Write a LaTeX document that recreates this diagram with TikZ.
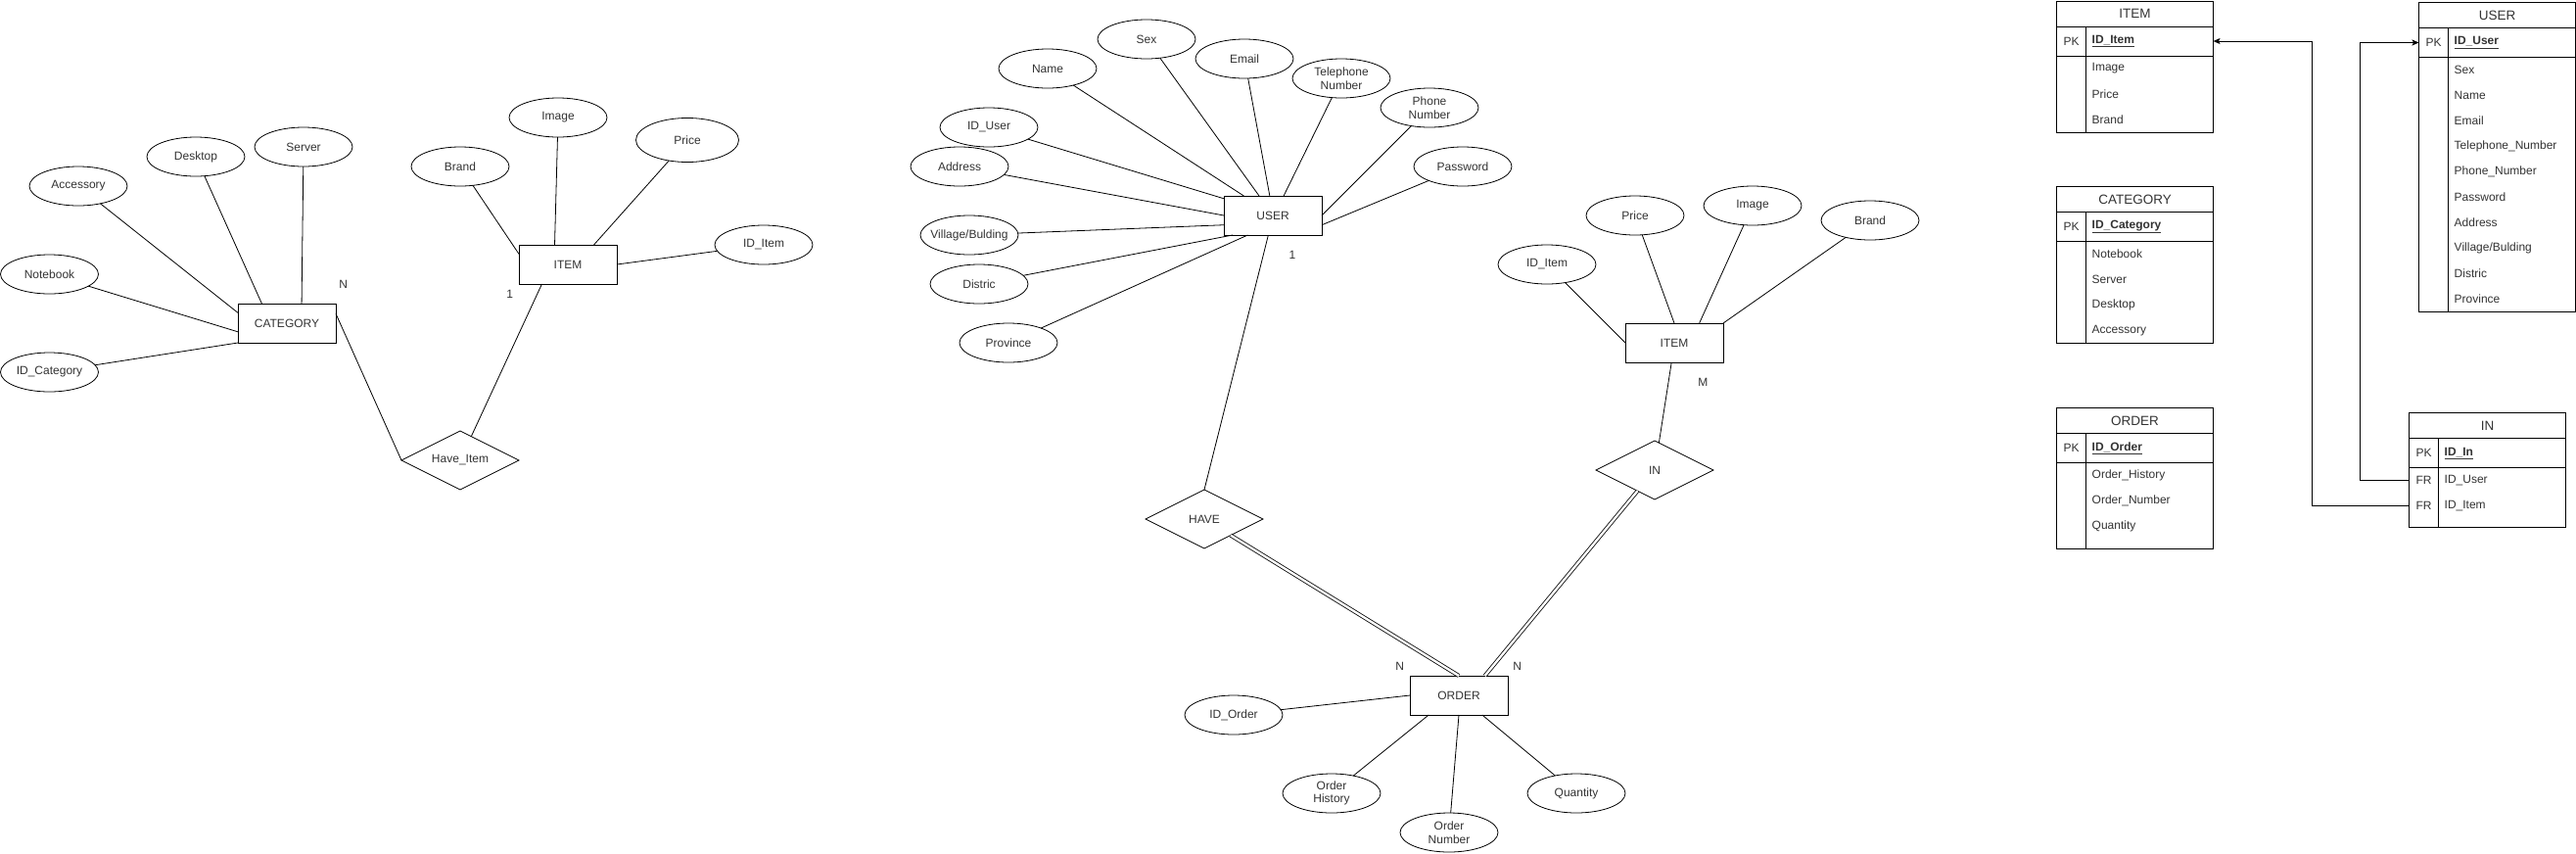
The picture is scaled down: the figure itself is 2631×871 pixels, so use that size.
\documentclass[tikz,border=0pt]{standalone}
\usepackage{fontspec}
\setmainfont{Liberation Sans}
\usetikzlibrary{shapes.geometric,calc,arrows.meta}
\definecolor{txt}{HTML}{333333}
\newcommand\erframe[5]{%
  \draw[tbl] (#1,#2) rectangle (#1+160,#5);
  \draw[tbl] (#1,#3) -- (#1+160,#3) (#1,#4) -- (#1+160,#4) (#1+30,#3) -- (#1+30,#5);}
\begin{document}
\begin{tikzpicture}[x=1pt,y=-1pt,
  every node/.style={font=\fontsize{12}{13.5}\selectfont, text=txt},
  ent/.style={draw, line width=1pt, minimum width=100pt, minimum height=40pt, inner sep=0pt, outer sep=0pt},
  attr/.style={draw, ellipse, line width=0.8pt, minimum width=100pt, minimum height=40pt, inner sep=0pt, outer sep=0pt, align=center},
  rel/.style={draw, diamond, aspect=2, line width=0.8pt, minimum width=120pt, minimum height=60pt, inner sep=0pt, outer sep=0pt},
  conn/.style={draw, line width=0.8pt},
  dbl/.style={draw, line width=0.8pt, double, double distance=2.4pt},
  card/.style={inner sep=0pt},
  tbl/.style={draw, line width=1pt},
  hdr/.style={inner sep=0pt, font=\fontsize{13.5}{15}\selectfont},
  keyl/.style={inner sep=0pt},
  rowt/.style={inner sep=0pt, anchor=west},
  fk/.style={draw, line width=1pt, -{Stealth[length=7pt,width=6pt,inset=1.5pt]}}
]
\useasboundingbox (0,0) rectangle (2631,871);

% ---------------- left ER: CATEGORY / ITEM ----------------
\node[ent] (cat) at (293,330) {CATEGORY};
\node[ent] (itemA) at (580,270) {ITEM};
\node[rel] (hi) at (470,470) {Have\_Item};
\node[attr] (acc) at (80,190) {Accessory};
\node[attr] (desk) at (200,160) {Desktop};
\node[attr] (serv) at (310,150) {Server};
\node[attr] (note) at (50.5,280) {Notebook};
\node[attr] (idcat) at (50.5,380) {ID\_Category};
\node[attr] (brandA) at (470,170) {Brand};
\node[attr] (imgA) at (570,120) {Image};
\node[attr, minimum width=105pt, minimum height=45pt] (priceA) at (702,143) {Price};
\node[attr] (iditemA) at (780,250) {ID\_Item};

\draw[conn] (acc) -- (cat.168.7);
\draw[conn] (desk) -- (cat.142.4);
\draw[conn] (serv) -- (cat.53.1);
\draw[conn] (note) -- (cat.190.2);
\draw[conn] (idcat) -- (cat.south west);
\draw[conn] (cat.11.3) -- (hi.west);
\draw[conn] (hi) -- (itemA.217.6);
\draw[conn] (brandA) -- (itemA.168.7);
\draw[conn] (imgA) -- (itemA.124);
\draw[conn] (priceA) -- (itemA.37.6);
\draw[conn] (iditemA) -- (itemA.east);
\node[card] (lN1) at (350.7,290.7) {N};
\node[card] (l11) at (520.7,300.7) {1};

% ---------------- middle ER: USER / ORDER / ITEM ----------------
\node[ent] (user) at (1300,220) {USER};
\node[attr] (sex) at (1171,40) {Sex};
\node[attr] (name) at (1070,70) {Name};
\node[attr] (email) at (1271,60) {Email};
\node[attr] (tel) at (1370,80) {Telephone\\Number};
\node[attr] (phone) at (1460,110) {Phone\\Number};
\node[attr] (pwd) at (1494,170) {Password};
\node[attr] (iduser) at (1010,130) {ID\_User};
\node[attr] (addr) at (980,170) {Address};
\node[attr, inner xsep=-8pt] (vill) at (990,240) {Village/Bulding};
\node[attr] (dist) at (1000,290) {Distric};
\node[attr] (prov) at (1030,350) {Province};

\draw[conn] (name) -- (user.146.3);
\draw[conn] (sex) -- (user.125);
\draw[conn] (email) -- (user.99.9);
\draw[conn] (tel) -- (user.61.2);
\draw[conn] (phone) -- (user.east);
\draw[conn] (pwd) -- (user.-11.3);
\draw[conn] (iduser) -- (user.161.2);
\draw[conn] (addr) -- (user.west);
\draw[conn] (vill) -- (user.191.3);
\draw[conn] (dist) -- (user.206);
\draw[conn] (prov) -- (user.218.1);

\node[rel] (have) at (1230,530) {HAVE};
\node[ent] (order) at (1490,710) {ORDER};
\node[rel] (inrel) at (1690,480) {IN};
\node[ent] (itemB) at (1710,350) {ITEM};

\draw[conn] (user.257.6) -- (have.north);
\draw[dbl] (have) -- (order.north);
\draw[dbl] (inrel) -- (order.37.6);
\draw[conn] (itemB.262.3) -- (inrel);

\node[attr] (iditemB) at (1580,270) {ID\_Item};
\node[attr] (priceB) at (1670,220) {Price};
\node[attr] (imgB) at (1790,210) {Image};
\node[attr] (brandB) at (1910,225) {Brand};
\draw[conn] (iditemB) -- (itemB.west);
\draw[conn] (priceB) -- (itemB.north);
\draw[conn] (imgB) -- (itemB.38.7);
\draw[conn] (brandB) -- (itemB.north east);

\node[attr] (idord) at (1260,730) {ID\_Order};
\node[attr] (ohist) at (1360,810) {Order\\History};
\node[attr] (onum) at (1480,850) {Order\\Number};
\node[attr] (qty) at (1610,810) {Quantity};
\draw[conn] (idord) -- (order.west);
\draw[conn] (ohist) -- (order.213.3);
\draw[conn] (onum) -- (order.south);
\draw[conn] (qty) -- (order.320.2);

\node[card] (l12) at (1320,260.7) {1};
\node[card] (lM) at (1739.3,390.7) {M};
\node[card] (lN2) at (1429.6,680.4) {N};
\node[card] (lN3) at (1549.6,680.4) {N};

% ---------------- tables ----------------
% ITEM
\erframe{2100.5}{1}{27}{57}{135}
\node[hdr] (tIh) at (2180.5,14) {ITEM};
\node[keyl] (tIk) at (2115.5,42) {PK};
\node[rowt] (tIp) at (2136.5,42) {\underline{\textbf{ID\_Item}}};
\node[rowt] (tI1) at (2136.5,70) {Image};
\node[rowt] (tI2) at (2136.5,96) {Price};
\node[rowt] (tI3) at (2136.5,122) {Brand};
\coordinate (tIpk) at (2260.5,42);

% CATEGORY
\erframe{2100.5}{190.7}{216.7}{246.7}{350.7}
\node[hdr] (tCh) at (2180.5,203.7) {CATEGORY};
\node[keyl] (tCk) at (2115.5,231.7) {PK};
\node[rowt] (tCp) at (2136.5,231.7) {\underline{\textbf{ID\_Category}}};
\node[rowt] (tC1) at (2136.5,259.7) {Notebook};
\node[rowt] (tC2) at (2136.5,285.7) {Server};
\node[rowt] (tC3) at (2136.5,311.7) {Desktop};
\node[rowt] (tC4) at (2136.5,337.7) {Accessory};

% ORDER
\erframe{2100.5}{416.5}{442.5}{472.5}{560.5}
\node[hdr] (tOh) at (2180.5,429.5) {ORDER};
\node[keyl] (tOk) at (2115.5,457.5) {PK};
\node[rowt] (tOp) at (2136.5,457.5) {\underline{\textbf{ID\_Order}}};
\node[rowt] (tO1) at (2136.5,485.5) {Order\_History};
\node[rowt] (tO2) at (2136.5,511.5) {Order\_Number};
\node[rowt] (tO3) at (2136.5,537.5) {Quantity};

% USER
\erframe{2470.5}{2.5}{28.5}{58.5}{318.5}
\node[hdr] (tUh) at (2550.5,15.5) {USER};
\node[keyl] (tUk) at (2485.5,43.5) {PK};
\node[rowt] (tUp) at (2506.5,43.5) {\underline{\textbf{ID\_User}}};
\node[rowt] (tU1) at (2506.5,71.5) {Sex};
\node[rowt] (tU2) at (2506.5,97.5) {Name};
\node[rowt] (tU3) at (2506.5,123.5) {Email};
\node[rowt] (tU4) at (2506.5,149.5) {Telephone\_Number};
\node[rowt] (tU5) at (2506.5,175.5) {Phone\_Number};
\node[rowt] (tU6) at (2506.5,201.5) {Password};
\node[rowt] (tU7) at (2506.5,227.5) {Address};
\node[rowt] (tU8) at (2506.5,253.5) {Village/Bulding};
\node[rowt] (tU9) at (2506.5,279.5) {Distric};
\node[rowt] (tU10) at (2506.5,305.5) {Province};
\coordinate (tUpk) at (2470.5,43.5);

% IN
\erframe{2460.5}{421.7}{447.7}{477.5}{538.5}
\node[hdr] (tNh) at (2540.5,434.7) {IN};
\node[keyl] (tNk) at (2475.5,462.6) {PK};
\node[rowt] (tNp) at (2496.5,462.6) {\underline{\textbf{ID\_In}}};
\node[keyl] (tNk1) at (2475.5,490.5) {FR};
\node[rowt] (tN1) at (2496.5,490.5) {ID\_User};
\node[keyl] (tNk2) at (2475.5,516.5) {FR};
\node[rowt] (tN2) at (2496.5,516.5) {ID\_Item};
\coordinate (tNu) at (2460.5,490.5);
\coordinate (tNi) at (2460.5,516.5);

\draw[fk] (tNi) -- (2361,516.5) -- (2361,42) -- (tIpk);
\draw[fk] (tNu) -- (2410.5,490.5) -- (2410.5,43.5) -- (tUpk);
\end{tikzpicture}
\end{document}
